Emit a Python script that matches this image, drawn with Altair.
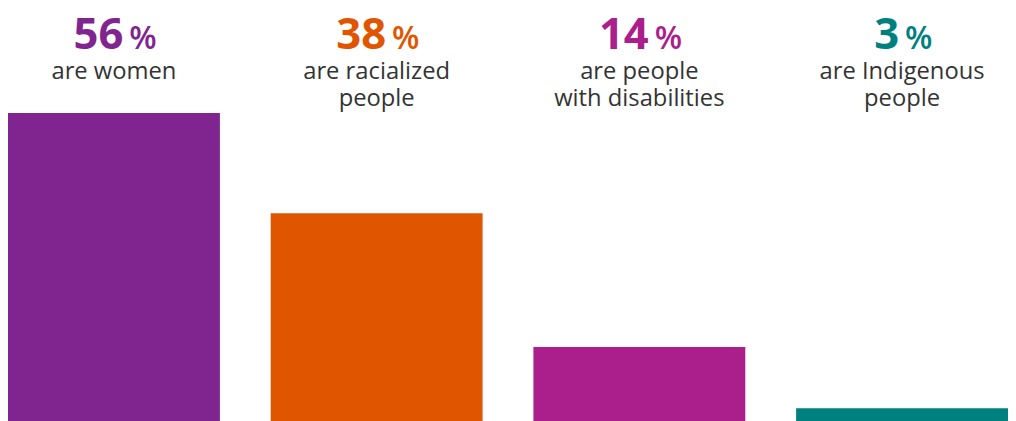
import altair as alt
import pandas as pd

categories = ["women", "racialized", "disabilities", "indigenous"]
values = [56, 38, 14, 3]
labels = ["are women", "are racialized\npeople", "are people\nwith disabilities", "are Indigenous\npeople"]
colors = ["#80248F", "#E05500", "#AB1F8C", "#00807F"]

W = 1000
H = 419
BAR_FRAC = 0.8066
DOMAIN_MAX = 3 + BAR_FRAC
RANGE = 1010
step = RANGE / DOMAIN_MAX

df = pd.DataFrame({"cat": categories, "value": values, "label": labels})
df["idx"] = range(len(df))
df["x1"] = df["idx"].astype(float)
df["x2"] = df["idx"] + BAR_FRAC
df["xc"] = df["idx"] + BAR_FRAC / 2
df["num"] = df["value"].astype(str)
nd = df["num"].str.len()
df["xn"] = df["xc"] + ((nd * 25 - 31) / 2) / step
df["xp"] = df["xn"] + 6 / step
df["pct"] = "%"

xs = alt.Scale(domain=[0, DOMAIN_MAX], range=[0, RANGE], nice=False, zero=False)
color = alt.Color("cat:N", scale=alt.Scale(domain=categories, range=colors), legend=None)
base = alt.Chart(df)

bars = base.mark_bar().encode(
    x=alt.X("x1:Q", scale=xs, axis=None),
    x2="x2:Q",
    y=alt.Y("value:Q", scale=alt.Scale(domain=[0, 74.5], nice=False), axis=None),
    y2=alt.datum(0),
    color=color,
)
nums = base.mark_text(font="Open Sans", fontWeight="bold", fontSize=44,
                      align="right", baseline="alphabetic").encode(
    x=alt.X("xn:Q", scale=xs, axis=None), y=alt.value(39), text="num:N", color=color)
pcts = base.mark_text(font="Open Sans", fontWeight=600, fontSize=32,
                      align="left", baseline="alphabetic").encode(
    x=alt.X("xp:Q", scale=xs, axis=None), y=alt.value(39), text="pct:N", color=color)
subs = base.mark_text(font="Open Sans", fontSize=24, lineBreak="\n", lineHeight=27,
                      align="center", baseline="alphabetic", color="#333333").encode(
    x=alt.X("xc:Q", scale=xs, axis=None), y=alt.value(70), text="label:N")

chart = alt.layer(bars, nums, pcts, subs).properties(
    width=W, height=H, padding=0
).configure_view(stroke=None)

chart.save("out.html", embed_options={"renderer": "svg", "actions": False})
